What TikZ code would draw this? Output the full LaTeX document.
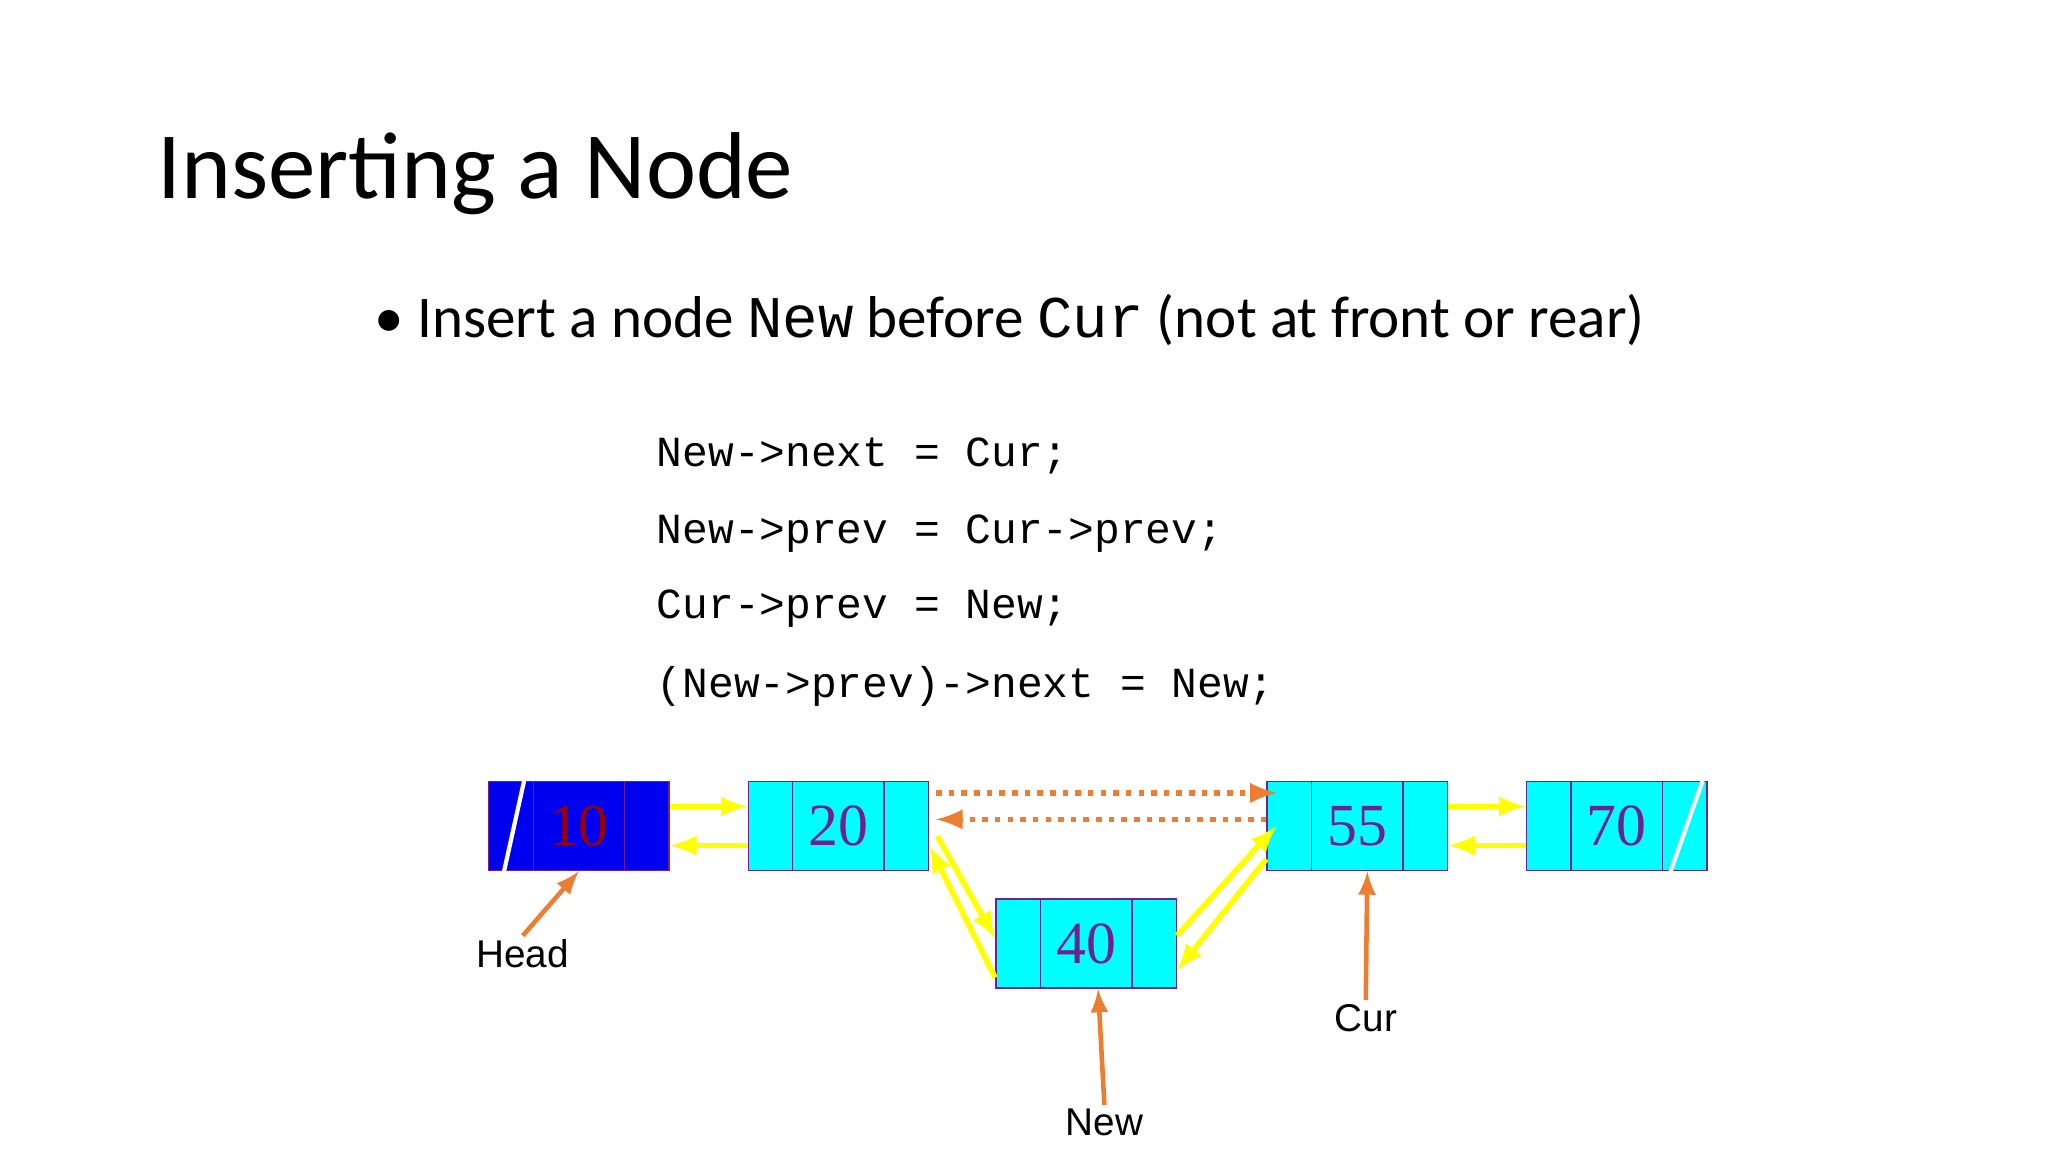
\documentclass[tikz,border=0pt]{standalone}
\usepackage{fontspec}
\setmainfont{Carlito}
\setmonofont{Liberation Mono}
\newfontfamily\numfont{Liberation Serif}
\newfontfamily\labfont{Liberation Sans}
\usetikzlibrary{arrows, positioning, calc}
\definecolor{cellcyan}{RGB}{0,255,255}
\definecolor{cellblue}{RGB}{0,0,240}
\definecolor{celledge}{RGB}{112,32,144}
\definecolor{linkyellow}{RGB}{255,255,0}
\definecolor{ptrorange}{RGB}{237,125,49}
\begin{document}
\begin{tikzpicture}[x=0.013066cm, y=-0.013066cm]
        \tikzstyle{cell} = [rectangle, minimum width=1.803cm, minimum height=0.888cm, inner sep=0pt, text centered, draw=celledge, fill=cellcyan, text=celledge, font=\numfont\fontsize{17}{17}\selectfont,
            path picture={\draw[celledge] ([xshift=0.444cm]path picture bounding box.north west) -- ([xshift=0.444cm]path picture bounding box.south west) ([xshift=-0.444cm]path picture bounding box.north east) -- ([xshift=-0.444cm]path picture bounding box.south east);}]
        \tikzstyle{link} = [draw=linkyellow, line width=1.6pt, -latex]
        \tikzstyle{newlink} = [draw=ptrorange, line width=1.6pt, dotted, -latex]
        \tikzstyle{pointer} = [draw=ptrorange, line width=1.3pt, -latex]
        \tikzstyle{ptrlabel} = [font=\labfont\fontsize{11}{11}\selectfont, inner sep=1pt]
        \tikzstyle{code} = [anchor=west, inner sep=0pt, font=\ttfamily\fontsize{12.2}{12.2}\selectfont]

        \useasboundingbox (0,0) rectangle (1567,882);

        \node[anchor=base west, font=\fontsize{27}{27}\selectfont, inner sep=0pt] (title) at (120,152) {Inserting a Node};
        \node[anchor=base west, font=\fontsize{16.8}{16.8}\selectfont, inner sep=0pt] (bullet) at (286,258) {\textbullet\ Insert a node \texttt{New} before \texttt{Cur} (not at front or rear)};

        \node[code] (line1) at (502,349) {New->next = Cur;};
        \node[code] (line2) at (502,408) {New->prev = Cur->prev;};
        \node[code] (line3) at (502,466) {Cur->prev = New;};
        \node[code] (line4) at (502,525) {(New->prev)->next = New;};

        \node[cell, fill=cellblue, text=red!60!black] (n10) at (443,632) {10};
        \node[cell] (n20) at (641.5,632) {20};
        \node[cell] (n40) at (831,722) {40};
        \node[cell] (n55) at (1038.5,632) {55};
        \node[cell] (n70) at (1237,632) {70};

        % null ends
        \draw[white, line width=1.2pt] ([xshift=0.16cm]n10.south west) -- ([xshift=0.36cm]n10.north west);
        \draw[white, line width=1.2pt] ([xshift=-0.37cm]n70.south east) -- ([xshift=-0.05cm]n70.north east);

        % old links
        \draw[link] ([yshift=0.196cm]n10.east) -- ([yshift=0.196cm]n20.west);
        \draw[link] ([yshift=-0.196cm]n20.west) -- ([yshift=-0.196cm]n10.east);
        \draw[link] ([yshift=0.196cm]n55.east) -- ([yshift=0.196cm]n70.west);
        \draw[link] ([yshift=-0.196cm]n70.west) -- ([yshift=-0.196cm]n55.east);
        \draw[newlink] ([xshift=0.066cm, yshift=0.33cm]n20.east) -- ([xshift=0.106cm, yshift=0.33cm]n55.west);
        \draw[newlink] ([yshift=0.066cm]n55.west) -- ([xshift=0.066cm, yshift=0.066cm]n20.east);

        % links of the new node
        \draw[link] ([xshift=0.08cm, yshift=-0.1cm]n20.east) -- ([yshift=0.05cm]n40.west);
        \draw[link] ([yshift=-0.34cm]n40.west) -- ([yshift=-0.2cm]n20.east);
        \draw[link] ([yshift=0.08cm]n40.east) -- ([xshift=0.1cm]n55.west);
        \draw[link] ([yshift=-0.33cm]n55.west) -- ([yshift=-0.27cm]n40.east);

        % pointers
        \node[ptrlabel] (head) at (400,730) {Head};
        \node[ptrlabel] (cur) at (1045,779) {Cur};
        \node[ptrlabel] (new) at (845,859) {New};
        \draw[pointer] (head.north) -- (n10.south);
        \draw[pointer] (cur.north) -- ([xshift=0.1cm]n55.south);
        \draw[pointer] (new.north) -- ([xshift=0.12cm]n40.south);
    \end{tikzpicture}
\end{document}
